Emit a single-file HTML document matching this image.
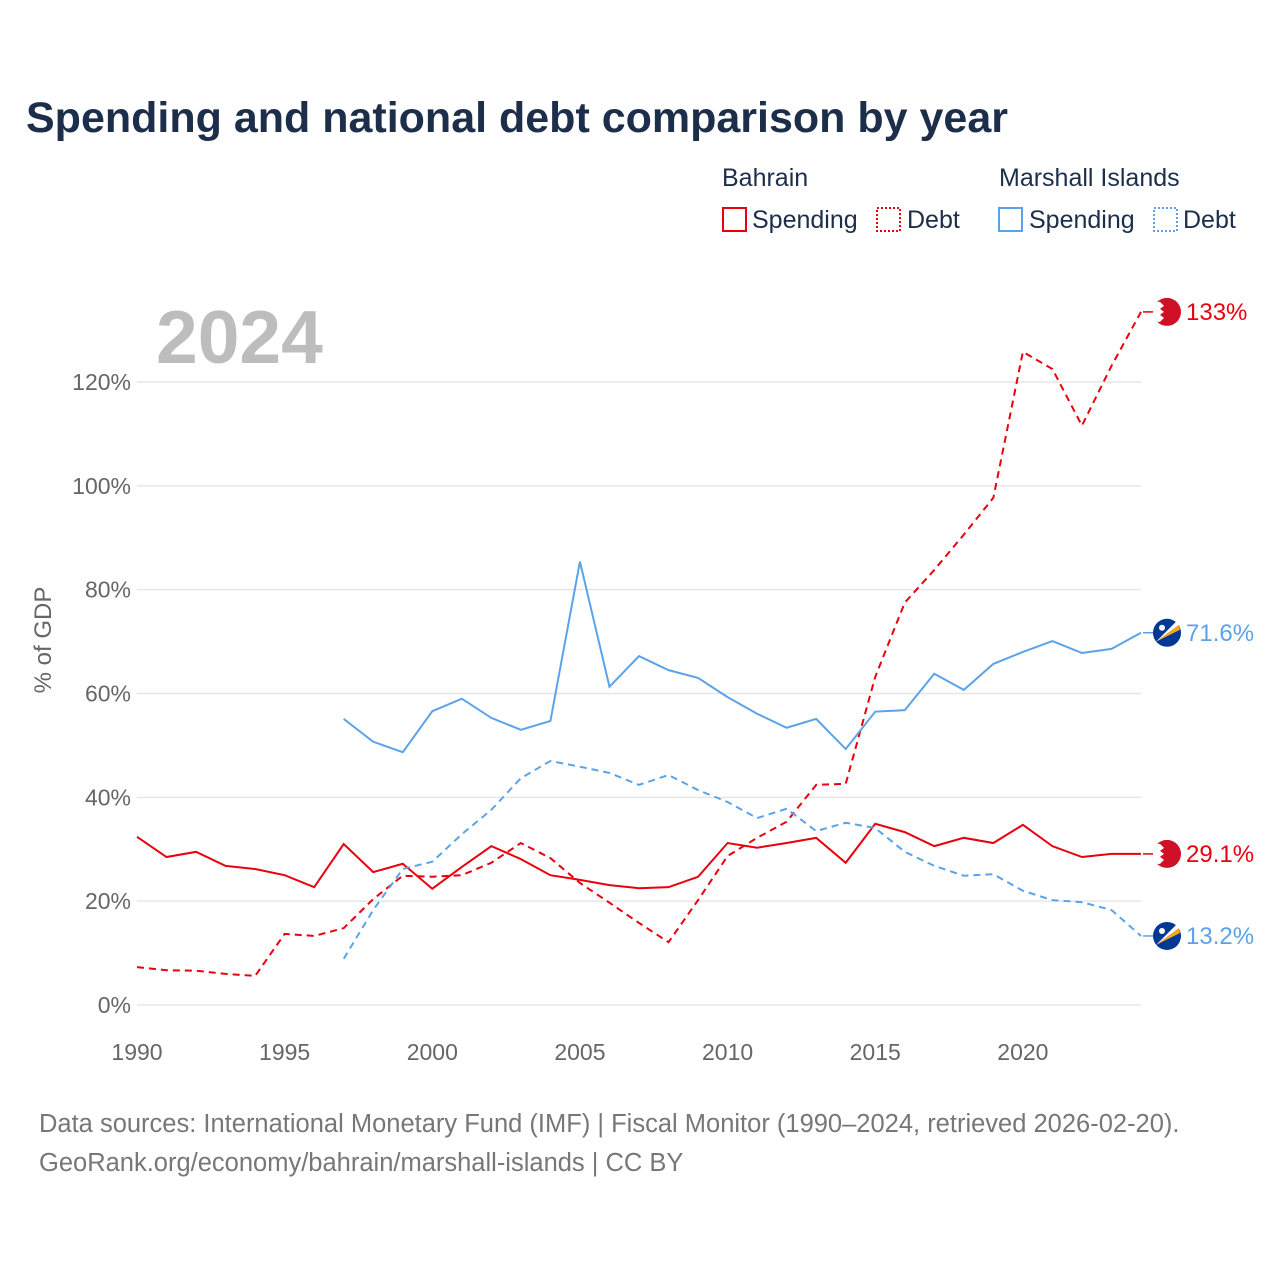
<!DOCTYPE html>
<html><head><meta charset="utf-8"><style>
body{margin:0;background:#fff;font-family:"Liberation Sans",Lato,sans-serif}
svg text{font-family:"Liberation Sans",sans-serif}
</style></head><body>
<svg id="c" width="1280" height="1280" xmlns="http://www.w3.org/2000/svg">
<text x="26" y="132" font-size="43" font-weight="bold" fill="#1c2e4a">Spending and national debt comparison by year</text>
<g font-size="25" fill="#1c2e4a">
<text x="722" y="186" fill="#1c2e4a">Bahrain</text>
<text x="999" y="186" fill="#1c2e4a">Marshall Islands</text>
<g><rect x="723" y="208" width="23" height="23" fill="none" stroke="#e8000d" stroke-width="2"/><text x="752" y="228" fill="#1c2e4a">Spending</text></g>
<g><rect x="877" y="208" width="23" height="23" fill="none" stroke="#e8000d" stroke-width="2" stroke-dasharray="2 2"/><text x="907" y="228" fill="#1c2e4a">Debt</text></g>
<g><rect x="999" y="208" width="23" height="23" fill="none" stroke="#5ba3e8" stroke-width="2"/><text x="1029" y="228" fill="#1c2e4a">Spending</text></g>
<g><rect x="1154" y="208" width="23" height="23" fill="none" stroke="#5ba3e8" stroke-width="2" stroke-dasharray="2 2"/><text x="1183" y="228" fill="#1c2e4a">Debt</text></g>
</g>
<text x="156" y="363" font-size="75" font-weight="bold" fill="#bdbdbd">2024</text>
<text transform="translate(51,640) rotate(-90)" text-anchor="middle" font-size="24" fill="#666">% of GDP</text>
<g id="grid"></g><g id="marks"></g>
<text x="39" y="1132" font-size="25.5" fill="#777">Data sources: International Monetary Fund (IMF) | Fiscal Monitor (1990–2024, retrieved 2026-02-20).</text>
<text x="39" y="1171" font-size="25.5" fill="#777">GeoRank.org/economy/bahrain/marshall-islands | CC BY</text>
</svg>
<script>
const yTicks=[0,20,40,60,80,100,120];
const xTicks=[1990,1995,2000,2005,2010,2015,2020];
const bhSpend=[32.4,28.5,29.5,26.8,26.2,25.0,22.7,31.0,25.6,27.2,22.4,26.6,30.6,28.1,25.0,24.1,23.1,22.5,22.7,24.7,31.2,30.3,31.2,32.2,27.4,34.9,33.3,30.6,32.2,31.2,34.7,30.6,28.5,29.1,29.1];
const bhDebt=[7.3,6.7,6.6,6.0,5.6,13.7,13.3,14.8,20.4,24.9,24.7,25.0,27.4,31.2,28.3,23.5,19.7,15.8,12.1,20.2,28.7,32.2,35.3,42.4,42.6,63.2,77.5,83.8,90.6,97.7,125.8,122.5,111.6,123.1,133.5];
const mhSpend=[55.1,50.7,48.7,56.6,59.0,55.3,53.0,54.7,85.4,61.3,67.2,64.5,63.0,59.3,56.1,53.4,55.1,49.3,56.5,56.8,63.8,60.7,65.7,68.0,70.1,67.8,68.6,71.7];
const mhDebt=[8.9,18.3,26.2,27.6,32.9,37.6,43.7,47.0,45.9,44.7,42.4,44.3,41.4,39.1,36.0,37.8,33.5,35.1,34.1,29.5,26.8,24.9,25.2,22.0,20.2,19.8,18.3,13.3];
const NS='http://www.w3.org/2000/svg';
const X=y=>137+(y-1990)*(1141-137)/34;
const Y=v=>1005-v*(1005-382)/120;
function mk(t,a,p){const e=document.createElementNS(NS,t);for(const k in a)e.setAttribute(k,a[k]);p.appendChild(e);return e;}
const g=document.getElementById('grid'),m=document.getElementById('marks');
yTicks.forEach(v=>{
 const l=mk('line',{x1:137,x2:1141,y1:Y(v),y2:Y(v),stroke:'#e6e6e6','stroke-width':1.5},g);
 
 
 const t=mk('text',{x:131,y:Y(v)+8,'text-anchor':'end','font-size':23,fill:'#666'},g);t.textContent=v+'%';
 
 
});
xTicks.forEach(v=>{
 const t=mk('text',{x:X(v),y:1060,'text-anchor':'middle','font-size':23,fill:'#666'},g);t.textContent=v;
 
 
});
function series(arr,start,color,dash,name,label,flag){
 const pts=arr.map((v,i)=>X(start+i)+','+Y(v)).join(' ');
 const p=mk('polyline',{points:pts,fill:'none',stroke:color,'stroke-width':2,'stroke-dasharray':dash},m);
 
 
 const last=arr[arr.length-1],ly=Y(last);
 mk('line',{x1:1143,x2:1153,y1:ly,y2:ly,stroke:color,'stroke-width':1.5},m);
 const fg=mk('g',{},m);
 
 
 const cx=1167;
 if(flag==='bh'){
  mk('circle',{cx:cx,cy:ly,r:14,fill:'#ce1126'},fg);
  mk('path',{d:`M${cx-14} ${ly-10} L${cx-7} ${ly-10} L${cx-3} ${ly-6} L${cx-7} ${ly-3} L${cx-3} ${ly} L${cx-7} ${ly+3} L${cx-3} ${ly+6} L${cx-7} ${ly+10} L${cx-14} ${ly+10}Z`,fill:'#fff'},fg);
 }else{
  mk('circle',{cx:cx,cy:ly,r:14,fill:'#003893'},fg);
  mk('path',{d:`M${cx-11} ${ly+9} L${cx+12} ${ly-8} L${cx+13} ${ly-3}Z`,fill:'#f5a623'},fg);
  mk('path',{d:`M${cx-11} ${ly+9} L${cx+12} ${ly-8} L${cx+10} ${ly-12}Z`,fill:'#fff'},fg);
  mk('circle',{cx:cx-5,cy:ly-5,r:3,fill:'#fff'},fg);
 }
 const t=mk('text',{x:1186,y:ly+8,'font-size':24,fill:color},m);t.textContent=label;
 
 
}
series(bhSpend,1990,'#e8000d','','bahrain-spending-line','29.1%','bh');
series(bhDebt,1990,'#e8000d','7 5','bahrain-debt-line','133%','bh');
series(mhSpend,1997,'#5ba3e8','','marshall-spending-line','71.6%','mh');
series(mhDebt,1997,'#5ba3e8','7 5','marshall-debt-line','13.2%','mh');
</script>
</body></html>
